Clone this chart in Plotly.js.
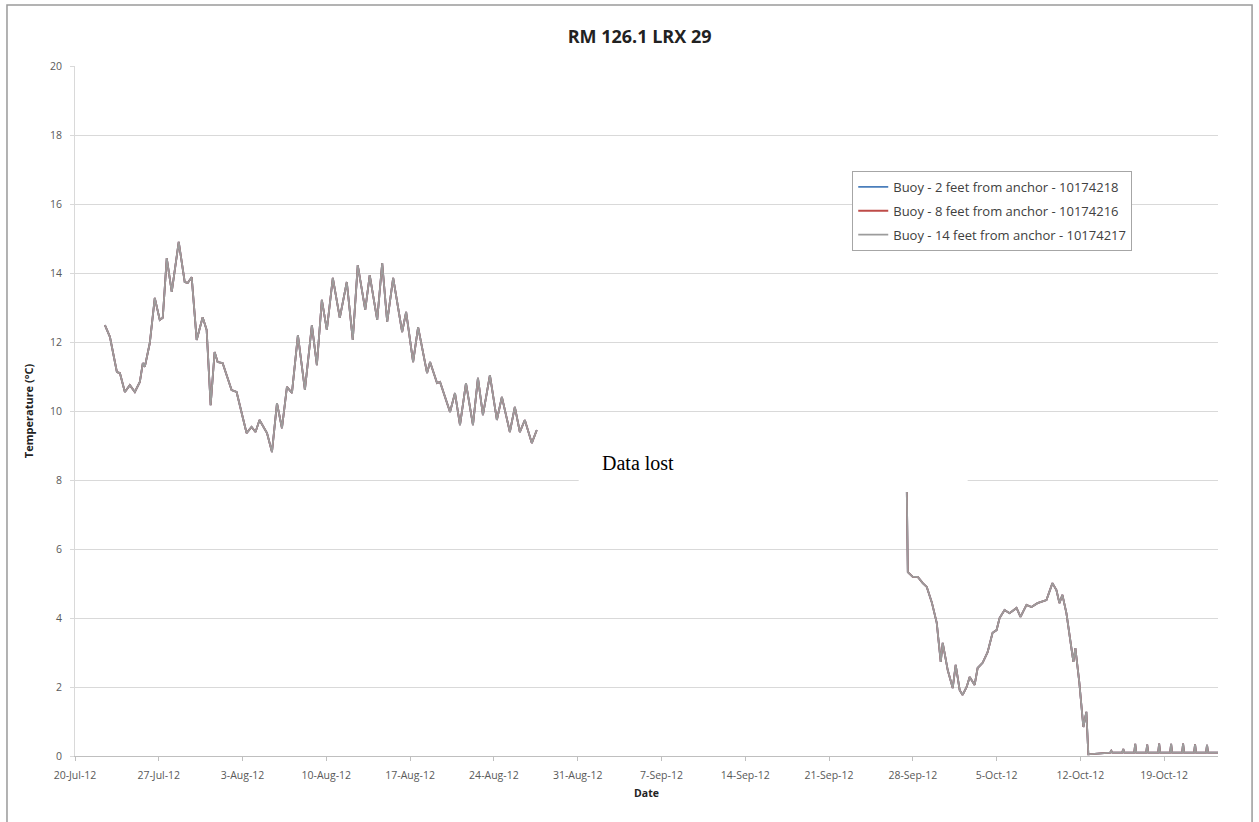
<!DOCTYPE html>
<html>
<head>
<meta charset="utf-8">
<script src="https://cdn.plot.ly/plotly-3.0.1.min.js"></script>
<style>html,body{margin:0;padding:0;background:#fff;}#chart{width:1259px;height:822px;}</style>
</head>
<body>
<div id="chart"></div>
<script>
// Segment 1: 22-Jul to 27-Aug-12
const datesJulAug = ['2012-07-22 12:00','2012-07-22 22:00','2012-07-23 12:00','2012-07-23 18:00','2012-07-24 04:00','2012-07-24 14:00','2012-07-25 00:00','2012-07-25 10:00','2012-07-25 16:00','2012-07-25 20:00','2012-07-26 06:00','2012-07-26 16:00','2012-07-27 02:00','2012-07-27 08:00','2012-07-27 16:00','2012-07-28 02:00','2012-07-28 16:00','2012-07-29 04:00','2012-07-29 10:00','2012-07-29 18:00','2012-07-30 04:00','2012-07-30 16:00','2012-07-31 00:00','2012-07-31 08:00','2012-07-31 16:00','2012-07-31 22:00','2012-08-01 08:00','2012-08-02 02:00','2012-08-02 12:00','2012-08-03 08:00','2012-08-03 18:00','2012-08-04 02:00','2012-08-04 10:00','2012-08-05 01:00','2012-08-05 11:00','2012-08-05 21:00','2012-08-06 07:00','2012-08-06 17:00','2012-08-07 03:00','2012-08-07 15:00','2012-08-08 05:00','2012-08-08 19:00','2012-08-09 05:00','2012-08-09 15:00','2012-08-10 01:00','2012-08-10 13:00','2012-08-11 03:00','2012-08-11 17:00','2012-08-12 05:00','2012-08-12 15:00','2012-08-13 06:00','2012-08-13 15:00','2012-08-14 06:00','2012-08-14 16:00','2012-08-15 02:00','2012-08-15 14:00','2012-08-16 08:00','2012-08-16 16:00','2012-08-17 06:00','2012-08-17 16:00','2012-08-18 10:00','2012-08-18 16:00','2012-08-19 06:00','2012-08-19 12:00','2012-08-20 08:00','2012-08-20 18:00','2012-08-21 04:00','2012-08-21 16:00','2012-08-22 06:00','2012-08-22 16:00','2012-08-23 02:00','2012-08-23 16:00','2012-08-24 06:00','2012-08-24 16:00','2012-08-25 08:00','2012-08-25 18:00','2012-08-26 04:00','2012-08-26 14:00','2012-08-27 04:00','2012-08-27 14:00'];
const tempsJulAug = [12.49,12.15,11.13,11.1,10.55,10.75,10.55,10.84,11.39,11.28,11.97,13.28,12.64,12.7,14.43,13.45,14.9,13.74,13.71,13.88,12.06,12.72,12.35,10.17,11.71,11.42,11.39,10.61,10.55,9.36,9.54,9.39,9.74,9.36,8.81,10.23,9.5,10.7,10.52,12.2,10.61,12.49,11.33,13.22,12.35,13.86,12.7,13.74,12.06,14.23,12.93,13.94,12.64,14.29,12.58,13.86,12.29,12.87,11.42,12.43,11.1,11.42,10.81,10.84,9.97,10.52,9.59,10.81,9.59,10.96,9.88,11.04,9.74,10.41,9.39,10.12,9.39,9.74,9.07,9.45];

// Segment 2: 27-Sep to 23-Oct-12
const datesSepOct = ['2012-09-27 12:00','2012-09-27 14:00','2012-09-28 00:00','2012-09-28 10:00','2012-09-28 20:00','2012-09-29 04:00','2012-09-29 14:00','2012-09-30 00:00','2012-09-30 08:00','2012-09-30 12:00','2012-09-30 22:00','2012-10-01 08:00','2012-10-01 14:00','2012-10-01 22:00','2012-10-02 04:00','2012-10-02 12:00','2012-10-02 18:00','2012-10-03 04:00','2012-10-03 10:00','2012-10-03 20:00','2012-10-04 06:00','2012-10-04 16:00','2012-10-05 00:00','2012-10-05 06:00','2012-10-05 16:00','2012-10-06 02:00','2012-10-06 16:00','2012-10-07 00:00','2012-10-07 12:00','2012-10-07 22:00','2012-10-08 10:00','2012-10-09 04:00','2012-10-09 16:00','2012-10-10 00:00','2012-10-10 06:00','2012-10-10 12:00','2012-10-10 20:00','2012-10-11 06:00','2012-10-11 10:00','2012-10-11 14:00','2012-10-11 22:00','2012-10-12 06:00','2012-10-12 12:00','2012-10-12 16:00','2012-10-13 12:00','2012-10-14 12:00','2012-10-14 14:00','2012-10-14 16:00','2012-10-15 12:00','2012-10-15 14:00','2012-10-15 16:00','2012-10-16 12:00','2012-10-16 14:00','2012-10-16 16:00','2012-10-17 12:00','2012-10-17 14:00','2012-10-17 16:00','2012-10-18 12:00','2012-10-18 14:00','2012-10-18 16:00','2012-10-19 12:00','2012-10-19 14:00','2012-10-19 16:00','2012-10-20 12:00','2012-10-20 14:00','2012-10-20 16:00','2012-10-21 12:00','2012-10-21 14:00','2012-10-21 16:00','2012-10-22 12:00','2012-10-22 14:00','2012-10-22 16:00','2012-10-23 12:00'];
const tempsSepOct = [7.65,5.33,5.19,5.19,5.01,4.9,4.46,3.86,2.73,3.28,2.49,1.97,2.64,1.91,1.77,2.0,2.29,2.06,2.55,2.7,3.01,3.57,3.65,4.0,4.23,4.14,4.29,4.03,4.38,4.32,4.43,4.52,5.01,4.81,4.43,4.67,4.14,3.16,2.73,3.13,2.12,0.84,1.28,0.05,0.08,0.1,0.15,0.1,0.1,0.2,0.1,0.1,0.35,0.1,0.1,0.33,0.1,0.1,0.36,0.1,0.1,0.35,0.1,0.1,0.36,0.1,0.1,0.34,0.1,0.1,0.32,0.1,0.1];

const seriesNames = ['Buoy - 2 feet from anchor - 10174218','Buoy - 8 feet from anchor - 10174216','Buoy - 14 feet from anchor - 10174217'];
const seriesColors = ['#4A7EBB','#BE4B48','#9C9C9C'];
const xTickVals = ['2012-07-20','2012-07-27','2012-08-03','2012-08-10','2012-08-17','2012-08-24','2012-08-31','2012-09-07','2012-09-14','2012-09-21','2012-09-28','2012-10-05','2012-10-12','2012-10-19'];
const xTickText = ['20-Jul-12','27-Jul-12','3-Aug-12','10-Aug-12','17-Aug-12','24-Aug-12','31-Aug-12','7-Sep-12','14-Sep-12','21-Sep-12','28-Sep-12','5-Oct-12','12-Oct-12','19-Oct-12'];
const yTickVals = [0,2,4,6,8,10,12,14,16,18,20];

const allDates = datesJulAug.concat([null], datesSepOct);
const allTemps = tempsJulAug.concat([null], tempsSepOct);

const traces = seriesNames.map((name, i) => ({
  x: allDates, y: allTemps, name: name, type: 'scatter', mode: 'lines',
  legendgroup: 'g' + i,
  connectgaps: false,
  line: {color: seriesColors[i], width: 1.8}
}));

const fontMain = 'Open Sans, Noto Sans, Liberation Sans, sans-serif';

const layout = {
  width: 1259, height: 822,
  margin: {l: 75, r: 41, t: 66, b: 66},
  paper_bgcolor: '#ffffff', plot_bgcolor: '#ffffff',
  showlegend: true,
  title: {text: '<b>RM 126.1 LRX 29</b>', font: {family: fontMain, size: 18, color: '#222'}, x: 0.508, xanchor: 'center', y: 0.955, yanchor: 'middle'},
  xaxis: {
    type: 'date', range: ['2012-07-20', '2012-10-23 12:00'],
    tickvals: xTickVals, ticktext: xTickText,
    tickfont: {family: fontMain, size: 10.5, color: '#595959'},
    ticklabelstandoff: 5,
    showgrid: false, zeroline: false,
    showline: true, linecolor: '#bfbfbf', linewidth: 1,
    ticks: 'outside', ticklen: 4, tickcolor: '#bfbfbf',
    title: {text: '<b>Date</b>', font: {family: fontMain, size: 10.5, color: '#222'}, standoff: 9}
  },
  yaxis: {
    range: [0, 20], tickvals: yTickVals,
    tickfont: {family: fontMain, size: 10.5, color: '#595959'},
    ticklabelstandoff: 6,
    showgrid: true, gridcolor: '#d9d9d9', gridwidth: 1, zeroline: false,
    showline: true, linecolor: '#d9d9d9', linewidth: 1,
    ticks: 'outside', ticklen: 4, tickcolor: '#d9d9d9',
    title: {text: '<b>Temperature (°C)</b>', font: {family: fontMain, size: 11, color: '#222'}, standoff: 14}
  },
  legend: {
    x: 0.68, y: 0.848, xanchor: 'left', yanchor: 'top',
    bgcolor: '#ffffff', bordercolor: '#a6a6a6', borderwidth: 1,
    font: {family: fontMain, size: 13, color: '#404040'},
    traceorder: 'grouped', tracegroupgap: 4,
    itemwidth: 30
  },
  shapes: [
    {type: 'rect', xref: 'x', yref: 'y', x0: '2012-08-31 02:00', x1: '2012-10-02 14:00', y0: 7.94, y1: 8.9, fillcolor: '#ffffff', line: {width: 0}, layer: 'above'},
    {type: 'rect', xref: 'paper', yref: 'paper', x0: -0.0595, x1: 1.0298, y0: -0.12, y1: 1.0884, fillcolor: 'rgba(0,0,0,0)', line: {color: '#9a9a9a', width: 1.5}, layer: 'below'}
  ],
  annotations: [
    {xref: 'x', yref: 'y', x: '2012-09-01 21:00', y: 8.5, xanchor: 'left', yanchor: 'middle', text: 'Data lost', showarrow: false, font: {family: 'Liberation Serif, Times New Roman, serif', size: 20, color: '#000'}}
  ]
};

Plotly.newPlot('chart', traces, layout, {displayModeBar: false, staticPlot: true});
</script>
</body>
</html>
